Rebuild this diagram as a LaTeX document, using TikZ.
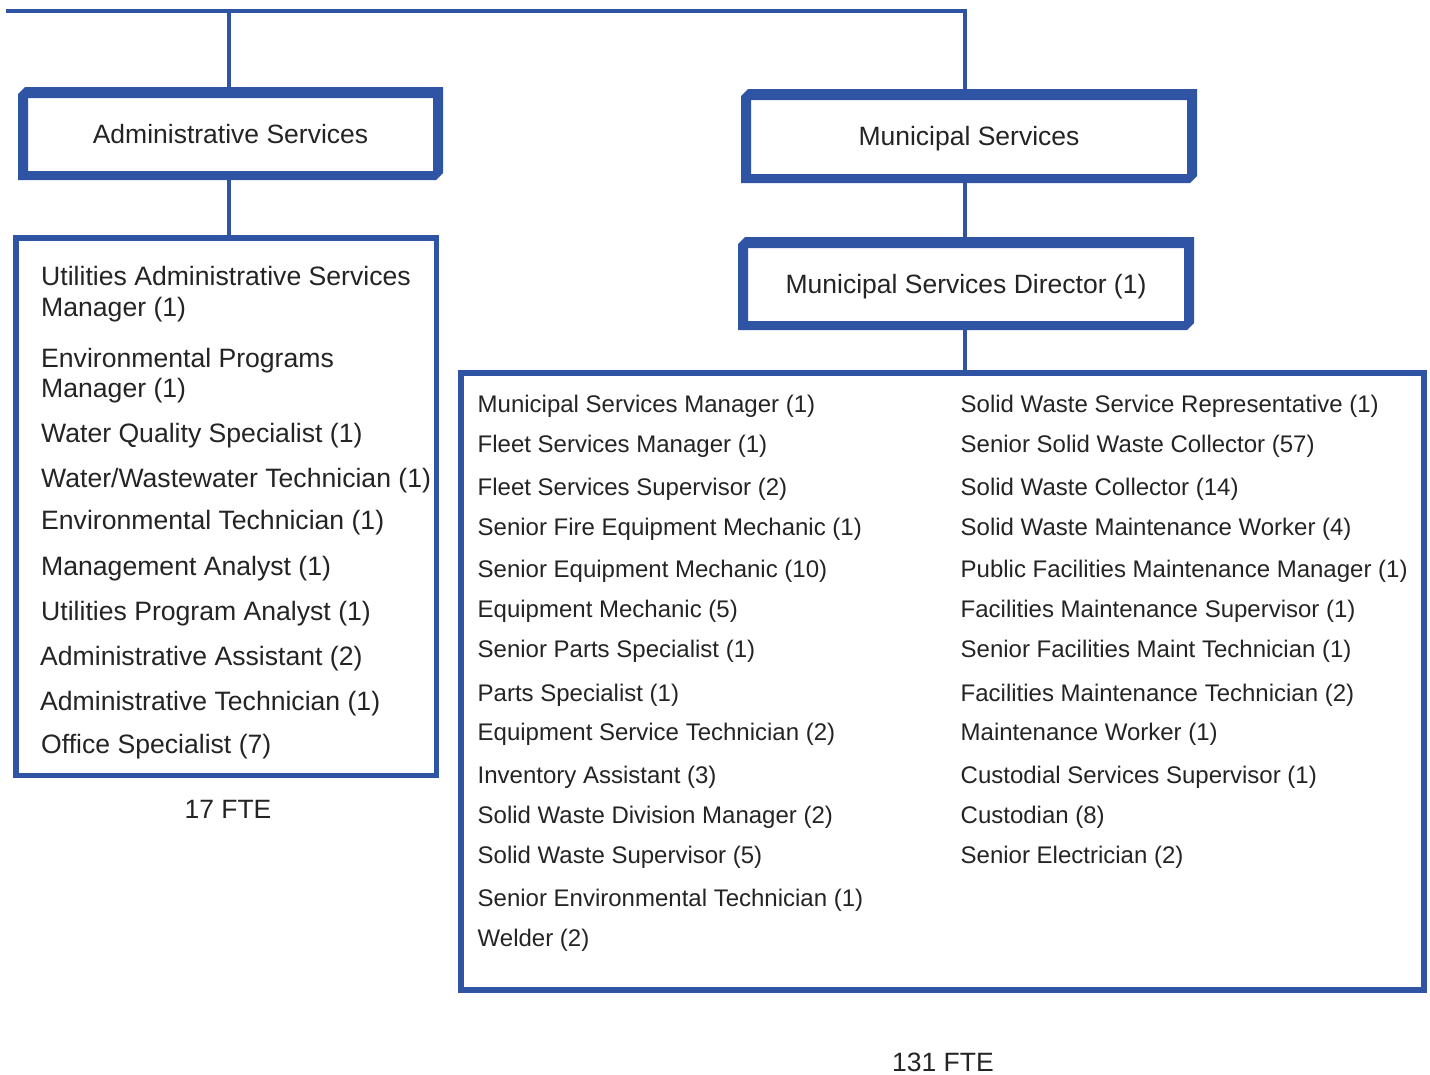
\documentclass[tikz,border=0pt]{standalone}
\usepackage{fontspec}
\setmainfont{Liberation Sans}
\usetikzlibrary{calc}
\definecolor{orgblue}{RGB}{48,84,164}
\definecolor{ink}{RGB}{36,36,36}

% heavy frame with cut top-left and bottom-right outer corners
\newcommand\hdrframe[1]{%
  \fill[orgblue,even odd rule]
    ($(#1.north west)+(0,7)$) -- ($(#1.north west)+(7,0)$) -- (#1.north east)
    -- ($(#1.south east)+(0,-7)$) -- ($(#1.south east)+(-7,0)$) -- (#1.south west) -- cycle
    ($(#1.north west)+(10,11)$) rectangle ($(#1.south east)+(-10,-9)$);}
% entry set on two lines
\newcommand\twolines[3]{\vtop{\baselineskip=#1pt\lineskiplimit=-10pt\hbox{#2}\hbox{#3}}}

\tikzset{
  hdr/.style={draw=none,inner sep=0pt,outer sep=0pt,minimum width=#1,minimum height=93pt,
    text=ink,font=\fontsize{26.5}{31}\selectfont,text height=19.5pt,text depth=0pt},
  listbox/.style={draw=orgblue,line width=#1,inner sep=0pt},
  conn/.style={draw=orgblue,line width=4.5pt},
  itemA/.style={anchor=base west,inner sep=0pt,text=ink,font=\fontsize{26.6}{31}\selectfont},
  itemB/.style={anchor=base west,inner sep=0pt,text=ink,font=\fontsize{24}{29}\selectfont},
  fte/.style={anchor=base,inner sep=0pt,text=ink,font=\fontsize{26.5}{31}\selectfont}
}

\begin{document}
\begin{tikzpicture}[x=1pt,y=-1pt]
\useasboundingbox[fill=white] (0,0) rectangle (1430,1074);

% section headers
\node[hdr=425pt] (adm) at (230.5,133.5) {Administrative Services};
\node[hdr=456pt,minimum height=94pt] (ms) at (969,136) {Municipal Services};
\node[hdr=456pt] (dir) at (966,283.5) {Municipal Services Director (1)};
\hdrframe{adm}
\hdrframe{ms}
\hdrframe{dir}

% position lists
\node[listbox=5.5pt,minimum width=420.5pt,minimum height=537.5pt] (alist) at (226,506.5) {};
\node[listbox=6pt,minimum width=963pt,minimum height=617pt] (mlist) at (942.5,681.5) {};

% connectors
\coordinate (tl) at (6,11);
\coordinate (abr) at (229,11);
\coordinate (trunk) at (965,11);
\draw[conn] (tl) -- (trunk) -- (ms.north -| trunk);
\draw[conn] (abr) -- (adm.north -| abr);
\draw[conn] (adm.south -| abr) -- (alist.north -| abr);
\draw[conn] (ms.south -| trunk) -- (dir.north -| trunk);
\draw[conn] (dir.south -| trunk) -- (mlist.north -| trunk);

% administrative positions
\node[itemA] (a1) at (41,285) {\twolines{31}{Utilities Administrative Services}{Manager (1)}};
\node[itemA] (a2) at (41,367) {\twolines{30}{Environmental Programs}{Manager (1)}};
\node[itemA] (a3) at (41,442) {Water Quality Specialist (1)};
\node[itemA] (a4) at (41,487) {Water/Wastewater Technician (1)};
\node[itemA] (a5) at (41,529) {Environmental Technician (1)};
\node[itemA] (a6) at (41,575) {Management Analyst (1)};
\node[itemA] (a7) at (41,620) {Utilities Program Analyst (1)};
\node[itemA] (a8) at (40,665) {Administrative Assistant (2)};
\node[itemA] (a9) at (40,710) {Administrative Technician (1)};
\node[itemA] (a10) at (41,753) {Office Specialist (7)};
\node[fte] (afte) at (228,818) {17 FTE};

% municipal positions, first column
\node[itemB] (m1) at (477.5,412) {Municipal Services Manager (1)};
\node[itemB] (m2) at (477.5,452) {Fleet Services Manager (1)};
\node[itemB] (m3) at (477.5,495) {Fleet Services Supervisor (2)};
\node[itemB] (m4) at (477.5,535) {Senior Fire Equipment Mechanic (1)};
\node[itemB] (m5) at (477.5,577) {Senior Equipment Mechanic (10)};
\node[itemB] (m6) at (477.5,617) {Equipment Mechanic (5)};
\node[itemB] (m7) at (477.5,657) {Senior Parts Specialist (1)};
\node[itemB] (m8) at (477.5,701) {Parts Specialist (1)};
\node[itemB] (m9) at (477.5,740) {Equipment Service Technician (2)};
\node[itemB] (m10) at (477.5,783) {Inventory Assistant (3)};
\node[itemB] (m11) at (477.5,823) {Solid Waste Division Manager (2)};
\node[itemB] (m12) at (477.5,863) {Solid Waste Supervisor (5)};
\node[itemB] (m13) at (477.5,906) {Senior Environmental Technician (1)};
\node[itemB] (m14) at (477.5,946) {Welder (2)};

% municipal positions, second column
\node[itemB] (s1) at (960.5,412) {Solid Waste Service Representative (1)};
\node[itemB] (s2) at (960.5,452) {Senior Solid Waste Collector (57)};
\node[itemB] (s3) at (960.5,495) {Solid Waste Collector (14)};
\node[itemB] (s4) at (960.5,535) {Solid Waste Maintenance Worker (4)};
\node[itemB] (s5) at (960.5,577) {Public Facilities Maintenance Manager (1)};
\node[itemB] (s6) at (960.5,617) {Facilities Maintenance Supervisor (1)};
\node[itemB] (s7) at (960.5,657) {Senior Facilities Maint Technician (1)};
\node[itemB] (s8) at (960.5,701) {Facilities Maintenance Technician (2)};
\node[itemB] (s9) at (960.5,740) {Maintenance Worker (1)};
\node[itemB] (s10) at (960.5,783) {Custodial Services Supervisor (1)};
\node[itemB] (s11) at (960.5,823) {Custodian (8)};
\node[itemB] (s12) at (960.5,863) {Senior Electrician (2)};

\node[fte] (mfte) at (943,1071) {131 FTE};
\end{tikzpicture}
\end{document}
